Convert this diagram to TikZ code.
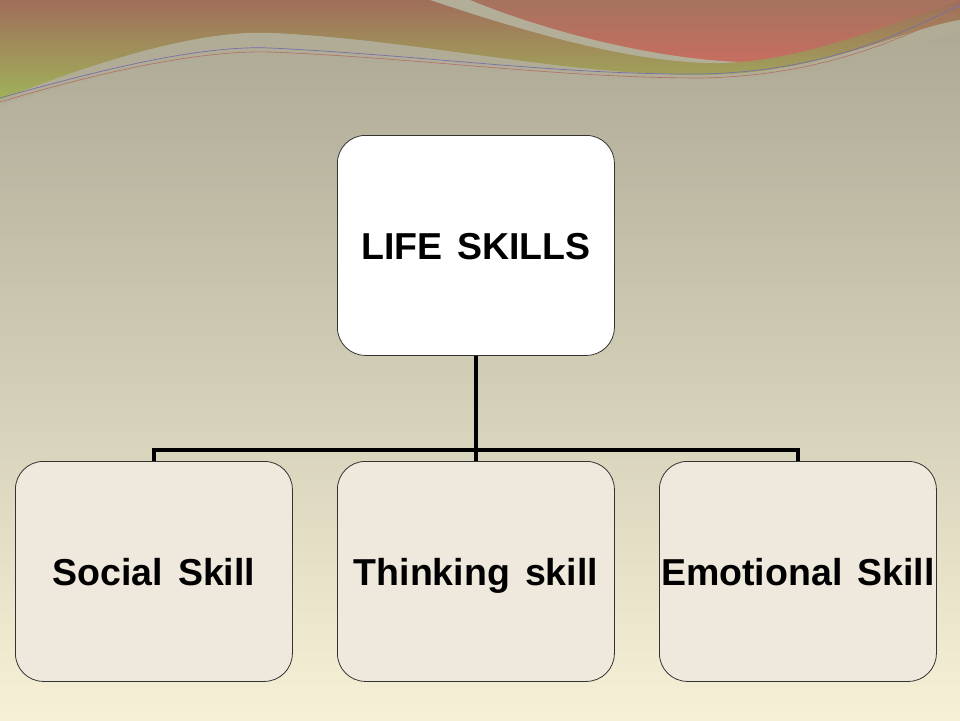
\documentclass[tikz,border=0pt]{standalone}
\usepackage{fontspec}
\setmainfont{Liberation Sans}
\newcommand{\mylblfont}{\bfseries\fontsize{37.5}{40}\selectfont\spaceskip=0.4em plus 0pt\relax}
\definecolor{bgtop}{RGB}{170,166,146}
\definecolor{bgbot}{RGB}{246,241,214}
\definecolor{bgreen}{RGB}{160,178,90}
\definecolor{bbrown}{RGB}{160,110,90}
\definecolor{rtop}{RGB}{165,115,95}
\definecolor{rbot}{RGB}{200,110,95}
\definecolor{gswoosh}{RGB}{178,174,152}
\definecolor{gband}{RGB}{176,172,150}
\definecolor{lpurple}{RGB}{120,110,170}
\definecolor{lred}{RGB}{180,110,100}
\definecolor{cream}{RGB}{238,233,220}
\begin{document}
\begin{tikzpicture}[x=1pt,y=-1pt,
  box/.style={draw=black!80,line width=0.8pt,rounded corners=28pt,minimum width=277pt,minimum height=220pt,anchor=north west,inner sep=0pt,text height=35pt,text depth=7pt},
  lbl/.style={font=\mylblfont},
  conn/.style={line width=4pt}]
\useasboundingbox (0,0) rectangle (960,720);
\shade[top color=bgtop,bottom color=bgbot] (0,0) rectangle (960,720);
\shade[top color=bbrown,bottom color=bgreen]
  (0,0) -- (0,100) .. controls (100,60) and (200,30) .. (270,33) .. controls (420,40) and (560,75) .. (700,75) .. controls (820,75) and (900,30) .. (960,20) -- (960,0) -- cycle;
\shade[top color=rtop,bottom color=rbot]
  (460,0) .. controls (540,30) and (650,65) .. (740,62) .. controls (820,55) and (900,20) .. (960,0) -- cycle;
\fill[gswoosh] (430,0) .. controls (520,30) and (650,70) .. (740,62) .. controls (640,58) and (530,25) .. (470,0) -- cycle;
\fill[gband] (0,100) .. controls (100,60) and (200,30) .. (270,33) .. controls (420,40) and (560,75) .. (700,75) .. controls (820,75) and (900,30) .. (960,20) -- (960,30) .. controls (900,50) and (820,80) .. (700,78) .. controls (560,78) and (420,52) .. (270,52) .. controls (180,52) and (80,80) .. (0,105) -- cycle;
\draw[lpurple,line width=0.7pt] (0,98) .. controls (100,70) and (200,45) .. (270,48) .. controls (420,55) and (560,75) .. (700,74) .. controls (820,72) and (900,35) .. (960,5);
\draw[lred,line width=0.6pt] (0,102) .. controls (100,72) and (200,50) .. (270,52) .. controls (420,58) and (560,78) .. (700,78) .. controls (820,76) and (900,40) .. (960,10);
\node[box,fill=white,lbl] (top) at (337,135) {LIFE SKILLS};
\node[box,fill=cream,lbl] (s) at (15,461) {Social Skill};
\node[box,fill=cream,lbl] (t) at (337,461) {Thinking skill};
\node[box,fill=cream,lbl] (e) at (659,461) {Emotional Skill};
\coordinate (j) at (top.south |- 0,450);
\draw[conn] (top.south) -- (j);
\draw[conn] (s.north) -- (s.north |- j) -- (e.north |- j) -- (e.north);
\draw[conn] (j) -- (t.north);
\end{tikzpicture}
\end{document}
